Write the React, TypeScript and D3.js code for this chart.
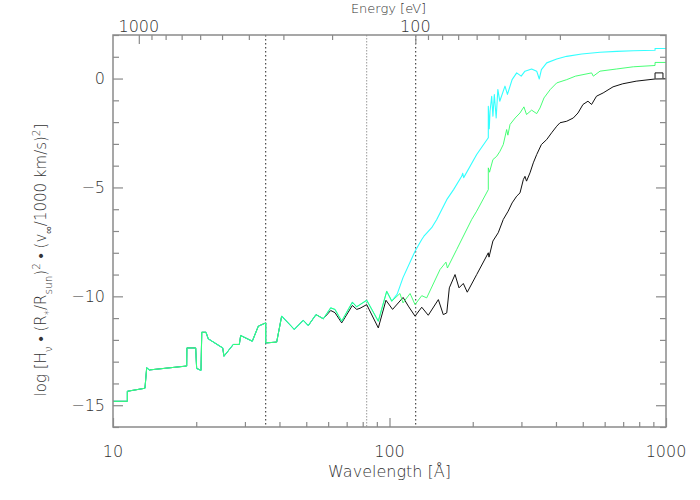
import * as d3 from "d3";
import React from "react";

// wavelength [A], log flux -- part common to all three models
const sharedLow: [number, number][] = [
  [10.0, -14.82], [11.27, -14.82], [11.27, -14.36], [13.05, -14.22], [13.24, -13.28],
  [13.53, -13.38], [18.47, -13.2], [18.5, -12.37], [19.91, -12.37], [20.07, -13.31],
  [20.81, -13.4], [20.94, -11.65], [21.69, -11.65], [22.1, -11.95], [24.93, -12.37],
  [25.2, -12.75], [27.23, -12.21], [28.63, -12.21], [28.96, -11.8], [31.9, -12.06],
  [33.54, -11.37], [35.67, -11.22], [35.67, -12.14], [39.08, -12.1], [40.74, -10.91],
  [45.26, -11.52], [48.77, -11.1], [50.85, -11.34], [54.23, -10.84], [57.62, -11.03],
];

// cyan + green share this stretch
const colourLow: [number, number][] = [
  [61.28, -10.53], [63.52, -10.6], [67.16, -11.14], [73.37, -10.27], [76.1, -10.48],
  [78.22, -10.38], [82.71, -10.18], [91.1, -11.14], [97.7, -9.77], [101.9, -10.22],
];

const cyanHigh: [number, number][] = [
  [106.6, -9.9], [111.9, -9.14], [123.7, -7.93], [130.8, -7.39], [133.2, -7.24],
  [136.3, -7.1], [142.1, -6.85], [148.2, -6.47], [161.1, -5.56], [170.5, -5.1],
  [182.4, -4.49], [184, -4.35], [185.5, -4.55], [206.7, -3.49], [227.7, -2.72],
  [227.7, -1.27], [229.5, -2.3], [231, -1.5], [234.2, -0.81], [236.6, -1.73],
  [239.4, -0.73], [243.1, -1.81], [246.5, -0.5], [250.5, -1.04], [261.6, -0.35],
  [267, -0.73], [277.6, -0.05], [288.4, 0.26], [299.4, 0.11], [309, 0.34],
  [326.6, 0.44], [340.7, 0.34], [348.1, -0.02], [354.3, 0.41], [370.3, 0.72],
  [402.5, 0.9], [437.4, 1.02], [495.6, 1.13], [577.2, 1.21], [663.4, 1.25],
  [761.6, 1.28], [912.8, 1.3], [912.8, 1.38], [1000, 1.38],
];

const greenHigh: [number, number][] = [
  [109.1, -9.87], [111.9, -10.3], [118.7, -9.87], [123.7, -10.38], [130.8, -9.97],
  [136.3, -10.07], [152.3, -8.77], [160, -8.43], [162, -8.7], [175, -7.85],
  [198.3, -6.47], [206.7, -6.09], [227.7, -5.1], [227.7, -4.1], [230, -4.3],
  [236.6, -3.72], [244.2, -3.57], [250.9, -3.34], [257.9, -3.03], [265.3, -2.34],
  [268, -2.6], [272.8, -2.11], [284.7, -1.81], [296.5, -1.58], [306.3, -1.3],
  [313, -1.65], [326.6, -1.45], [340.7, -1.61], [350.2, -1.35], [362, -0.89],
  [381.6, -0.5], [402.5, -0.2], [437.4, -0.05], [470.3, 0.11], [538.1, 0.26],
  [545.9, 0.11], [577.2, 0.34], [663.4, 0.44], [761.6, 0.54], [912.8, 0.6],
  [912.8, 0.74], [1000, 0.74],
];

const blackHigh: [number, number][] = [
  [61.28, -10.65], [63.52, -10.75], [67.16, -11.22], [73.37, -10.42], [76.1, -10.6],
  [78.22, -10.55], [82.71, -10.38], [91.1, -11.45], [97.1, -10.18], [102.6, -10.6],
  [112, -10.05], [117, -10.45], [123.7, -10.91], [130.8, -10.5], [138.1, -10.87],
  [150.2, -10.15], [156.5, -10.84], [161.1, -10.76], [164.6, -9.61], [172.6, -9.0],
  [178.4, -9.61], [184.9, -9.41], [191.1, -9.81], [206.7, -9.0], [227.7, -8.0],
  [229, -8.2], [236.6, -7.46], [247.3, -7.08], [257.9, -6.47], [268.6, -6.09],
  [277.6, -5.71], [288.4, -5.4], [296.5, -5.25], [304.8, -4.64], [309, -4.49],
  [313, -4.71], [322.2, -4.33], [331.2, -3.87], [340.7, -3.49], [354.3, -3.03],
  [370.3, -2.8], [385.8, -2.49], [402.5, -2.19], [413.7, -2.03], [437.4, -1.96],
  [462.1, -1.81], [480.6, -1.58], [500.9, -1.19], [522.1, -1.04], [538.1, -1.19],
  [560.6, -0.81], [592.4, -0.66], [643.4, -0.38], [697.5, -0.24], [780, -0.12],
  [912.8, -0.02], [1000, 0.0], [975, 0.0], [975, 0.26], [912.8, 0.26], [912.8, 0.0],
];

// edges marked with dotted lines [A]
const edgeLines = [35.67, 82.7, 124.4];
const edgeColors = ["#222", "#999", "#222"];

const waveMajor = [10, 100, 1000];
const waveMinor = [20, 30, 40, 50, 60, 70, 80, 90, 200, 300, 400, 500, 600, 700, 800, 900];
const energyMajor = [1000, 100];
const energyMinor = [900, 800, 700, 600, 500, 400, 300, 200, 90, 80, 70, 60, 50, 40, 30, 20];
const yMajor = [0, -5, -10, -15];
const yMinor = [2, 1, -1, -2, -3, -4, -6, -7, -8, -9, -11, -12, -13, -14, -16];

const HC = 12398.4; // eV * A

const App = () => {
  const ref = React.useRef<SVGSVGElement>(null);

  React.useEffect(() => {
    const margin = { top: 35, right: 34, bottom: 73, left: 113 },
      width = 700 - margin.left - margin.right,
      height = 500 - margin.top - margin.bottom;
    const svg = d3.select(ref.current);
    svg.selectAll("*").remove();
    svg.attr("width", 700).attr("height", 500);

    const font = "'DejaVu Sans', sans-serif";
    const textCol = "#333";
    const axisCol = "#8a8a8a";

    const graph = svg.append("g").attr("transform", `translate(${margin.left},${margin.top})`);

    const x = d3.scaleLog().domain([10, 1000]).range([0, width]);
    const xe = d3.scaleLog().domain([HC / 10, HC / 1000]).range([0, width]);
    const y = d3.scaleLinear().domain([-16, 2]).range([height, 0]);

    // dotted edge markers
    graph
      .selectAll(".edge")
      .data(edgeLines)
      .enter()
      .append("line")
      .attr("x1", (d) => x(d))
      .attr("x2", (d) => x(d))
      .attr("y1", 0)
      .attr("y2", height)
      .attr("stroke", (_, i) => edgeColors[i])
      .attr("stroke-width", 1)
      .attr("stroke-dasharray", (_, i) => (i === 1 ? "1.5,1.5" : "1.5,2.5"));

    const line = d3
      .line<[number, number]>()
      .x((d) => x(d[0]))
      .y((d) => y(d[1]));

    const series = [
      { data: [...sharedLow, ...blackHigh], color: "#111", w: 1 },
      { data: [...sharedLow, ...colourLow, ...cyanHigh], color: "#33ffff", w: 1.1 },
      { data: [...sharedLow, ...colourLow, ...greenHigh], color: "#33ff66", w: 0.9 },
    ];
    series.forEach((s) => {
      graph
        .append("path")
        .datum(s.data)
        .attr("d", line)
        .attr("fill", "none")
        .attr("stroke", s.color)
        .attr("stroke-width", s.w)
        .attr("stroke-linejoin", "round");
    });

    // axes: majors + minors, no domain path (frame drawn separately)
    const addAxis = (axis: any, tf: string) => {
      const g = graph.append("g").attr("transform", tf).call(axis);
      g.select(".domain").remove();
      g.selectAll("line").attr("stroke", axisCol).attr("stroke-width", 1.2);
      g.selectAll("text").remove();
    };
    addAxis(d3.axisBottom(x).tickValues(waveMajor).tickSize(-9), `translate(0,${height})`);
    addAxis(d3.axisBottom(x).tickValues(waveMinor).tickSize(-5), `translate(0,${height})`);
    addAxis(d3.axisTop(xe).tickValues(energyMajor).tickSize(-9), "translate(0,0)");
    addAxis(d3.axisTop(xe).tickValues(energyMinor).tickSize(-5), "translate(0,0)");
    addAxis(d3.axisLeft(y).tickValues(yMajor).tickSize(-10), "translate(0,0)");
    addAxis(d3.axisLeft(y).tickValues(yMinor).tickSize(-6), "translate(0,0)");
    addAxis(d3.axisRight(y).tickValues(yMajor).tickSize(-10), `translate(${width},0)`);
    addAxis(d3.axisRight(y).tickValues(yMinor).tickSize(-6), `translate(${width},0)`);

    graph
      .append("rect")
      .attr("width", width)
      .attr("height", height)
      .attr("fill", "none")
      .attr("stroke", axisCol)
      .attr("stroke-width", 1.5);

    const label = (sel: any, size = 16) =>
      sel
        .attr("font-family", font)
        .attr("font-size", size)
        .attr("font-weight", 200)
        .attr("fill", textCol);

    // tick labels
    graph
      .selectAll(".xl")
      .data(waveMajor)
      .enter()
      .append("text")
      .call(label)
      .attr("x", (d) => x(d))
      .attr("y", height + 30)
      .attr("text-anchor", "middle")
      .text((d) => d);

    graph
      .selectAll(".el")
      .data(energyMajor)
      .enter()
      .append("text")
      .call(label)
      .attr("x", (d) => xe(d))
      .attr("y", -3.5)
      .attr("text-anchor", "middle")
      .text((d) => d);

    graph
      .selectAll(".yl")
      .data(yMajor)
      .enter()
      .append("text")
      .call(label)
      .attr("x", -8)
      .attr("y", (d) => y(d))
      .attr("dy", "0.36em")
      .attr("text-anchor", "end")
      .text((d) => (d < 0 ? "\u2212" + Math.abs(d) : d));

    // axis titles
    svg
      .append("text")
      .call(label)
      .attr("x", margin.left + width / 2)
      .attr("y", 477)
      .attr("text-anchor", "middle")
      .text("Wavelength [Å]");

    svg
      .append("text")
      .call(label, 13)
      .attr("x", margin.left + width / 2 - 1)
      .attr("y", 12.5)
      .attr("text-anchor", "middle")
      .text("Energy [eV]");

    const yt = svg
      .append("text")
      .call(label, 15)
      .attr("text-anchor", "middle")
      .attr("transform", "translate(46,260) rotate(-90)");
    const parts: [string, string][] = [
      ["log [H", ""],
      ["ν", "sub"],
      [" • (R", ""],
      ["*", "sub"],
      ["/R", ""],
      ["sun", "sub"],
      [")", ""],
      ["2", "super"],
      [" • (v", ""],
      ["∞", "sub"],
      ["/1000 km/s)", ""],
      ["2", "super"],
      ["]", ""],
    ];
    parts.forEach(([t, shift]) => {
      const ts = yt.append("tspan").text(t);
      if (shift) ts.attr("baseline-shift", shift).attr("font-size", 10.5);
    });
  }, []);

  return (
    <svg
      ref={ref}
      style={{ position: "absolute", left: 0, top: 0, display: "block", background: "#fff" }}
    />
  );
};

export default App;
